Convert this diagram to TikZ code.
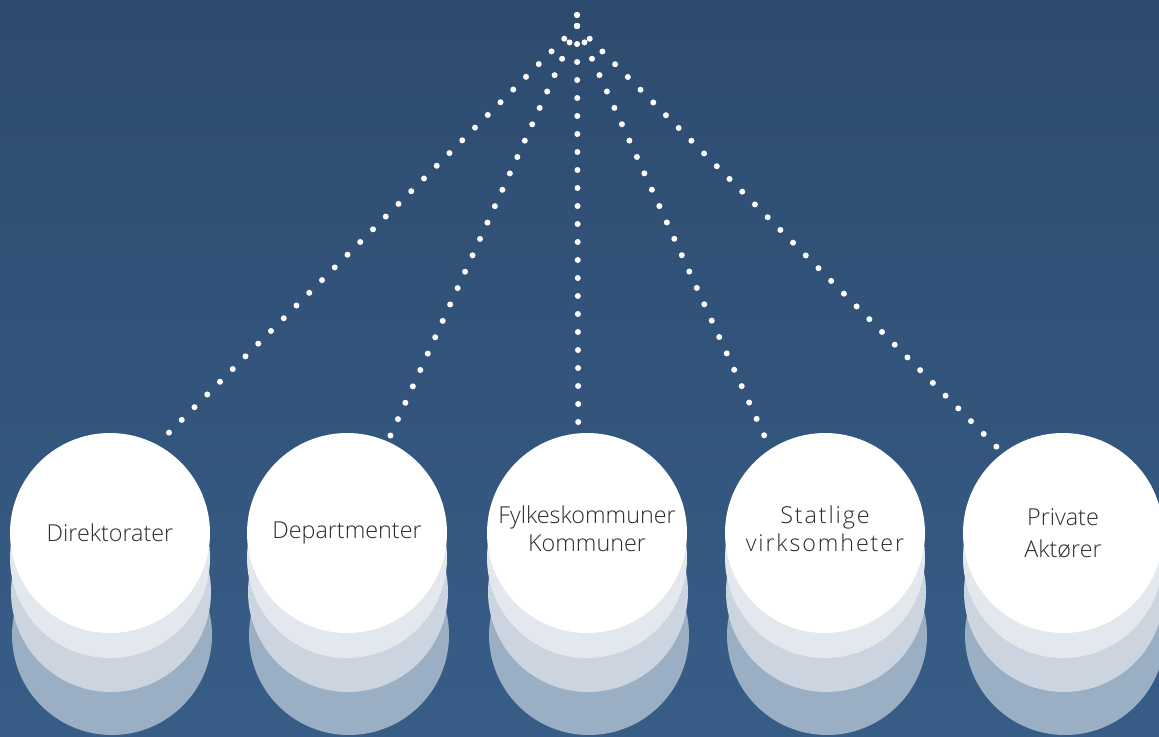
\documentclass[tikz,border=0pt]{standalone}
\usepackage{fontspec}
\setmainfont{Open Sans}[UprightFont=* Light]
\usepackage{tikz}
\definecolor{topblue}{HTML}{2E4B6F}
\definecolor{botblue}{HTML}{375D87}
\definecolor{layera}{HTML}{E3E7EE}
\definecolor{layerb}{HTML}{CBD4DF}
\definecolor{layerc}{HTML}{9AAFC4}
\definecolor{labelgray}{HTML}{2B2B2B}

\begin{document}
\begin{tikzpicture}[x=0.75pt,y=-0.75pt,
  disc/.style={circle,minimum size=150pt,inner sep=0pt},
  actor/.style={disc,fill=white},
  caption/.style={align=center,text=labelgray,font=\fontsize{17.5}{21}\selectfont},
  dots/.style={white,line width=4.5pt,line cap=round,dash pattern=on 0pt off 13.5pt}]
\shade[top color=topblue,bottom color=botblue] (0,0) rectangle (1159,736);
\useasboundingbox (0,0) rectangle (1159,736);
% stacked discs under each actor
\foreach \cx in {110,347,587,825,1063}{
  \node[disc,fill=layerc] at (\cx+2,635) {};
  \node[disc,fill=layerb] at (\cx+1,592) {};
  \node[disc,fill=layera] at (\cx,558) {};
}
\node[actor,label={[caption]center:Direktorater}] (dir) at (110,533) {};
\node[actor,label={[caption]center:Departmenter}] (dep) at (347,533) {};
\node[actor,label={[caption,yshift=3.5pt]center:Fylkeskommuner\\Kommuner}] (fyl) at (587,533) {};
\node[actor,label={[caption,yshift=3.5pt,font=\fontsize{17.5}{21}\selectfont\addfontfeatures{LetterSpace=8}]center:Statlige\\virksomheter}] (sta) at (825,533) {};
\node[actor,label={[caption,font=\fontsize{17.5}{24}\selectfont]center:Private\\Aktører}] (pri) at (1063,533) {};
% dotted lines from the top
\coordinate (top) at (577,26);
\fill[white] (577,15) circle (2.4pt);
\draw[dots] (top) -- (dir.62);
\draw[dots] (top) -- (dep.66);
\draw[dots] (top) -- (fyl.95);
\draw[dots] (top) -- (sta.123);
\draw[dots] (top) -- (pri.127);
\end{tikzpicture}
\end{document}
